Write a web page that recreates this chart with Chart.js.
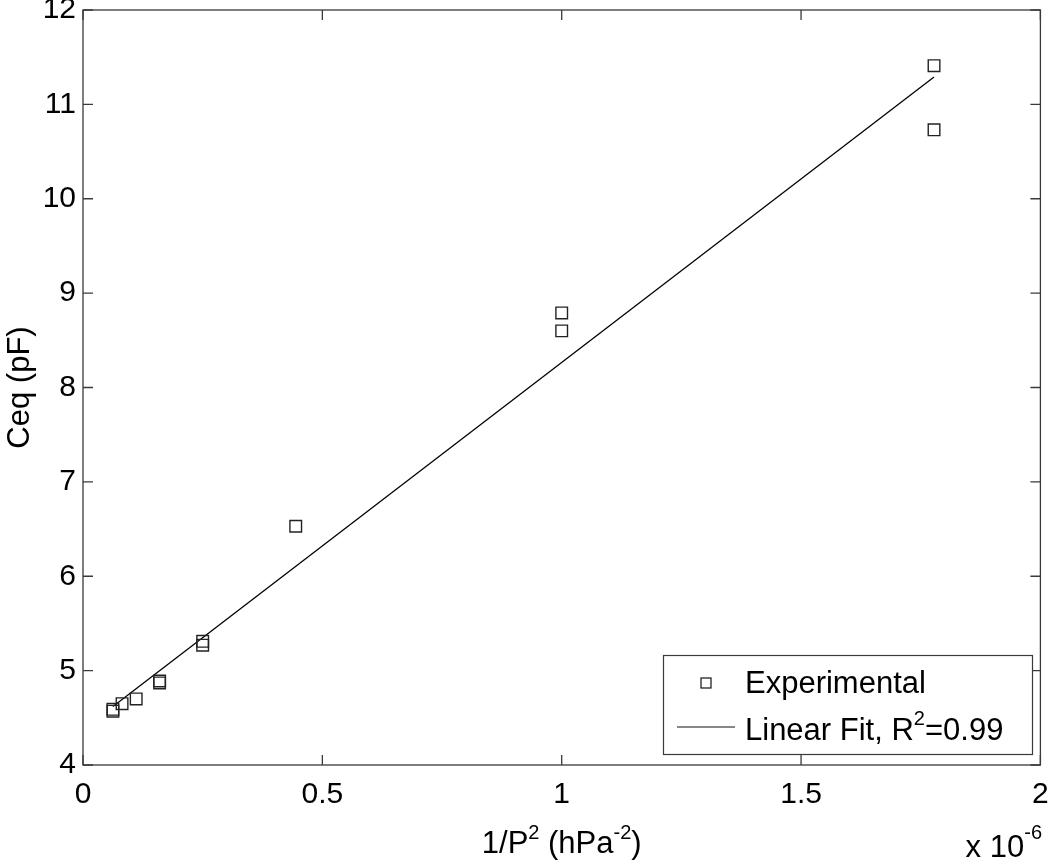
<!DOCTYPE html>
<html>
<head>
<meta charset="utf-8">
<title>Ceq vs 1/P^2</title>
<script src="https://cdn.jsdelivr.net/npm/chart.js@4.4.1/dist/chart.umd.min.js"></script>
<style>
    body { margin: 0; background: #fff; }
    #wrap { width: 1050px; height: 861px; }
</style>
</head>
<body>
<div id="wrap"><canvas id="ceqChart" width="1050" height="861"></canvas></div>
<script>
// x values are 1/P^2 in units of 1e-6 hPa^-2
const invPressureSq = [0.0625, 0.0625, 0.0816, 0.1111, 0.16, 0.16, 0.25, 0.25, 0.4444, 1, 1, 1.7778, 1.7778];
const ceqPf = [4.57, 4.59, 4.65, 4.70, 4.87, 4.89, 5.27, 5.31, 6.53, 8.79, 8.60, 11.41, 10.73];

// linear fit end points
const fitX = [0.0625, 1.7778];
const fitY = [4.62, 11.29];

const xTicks = [0, 0.5, 1, 1.5, 2];
const yTicks = [4, 5, 6, 7, 8, 9, 10, 11, 12];

const FONT = "'Liberation Sans', Arial, Helvetica, sans-serif";
const INK = '#000';
const FRAME = '#3a3a3a';

Chart.defaults.font.family = FONT;
Chart.defaults.color = INK;

// text with superscripts: parts = [text, size, rise]
function drawRich(ctx, parts, x, y, align) {
    let total = 0;
    parts.forEach(p => {
        ctx.font = p[1] + 'px ' + FONT;
        total += ctx.measureText(p[0]).width;
    });
    let cx = x;
    if (align === 'center') cx = x - total / 2;
    if (align === 'right') cx = x - total;
    ctx.textAlign = 'left';
    ctx.textBaseline = 'alphabetic';
    parts.forEach(p => {
        ctx.font = p[1] + 'px ' + FONT;
        ctx.fillText(p[0], cx, y - p[2]);
        cx += ctx.measureText(p[0]).width;
    });
}

// box around the axes with inward ticks, MATLAB style
const framePlugin = {
    id: 'frame',
    beforeDatasetsDraw(chart) {
        const ctx = chart.ctx;
        const a = chart.chartArea;
        const xs = chart.scales.x;
        const ys = chart.scales.y;
        const tl = 10;
        ctx.save();
        ctx.strokeStyle = FRAME;
        ctx.lineWidth = 1.3;
        ctx.strokeRect(a.left, a.top, a.right - a.left, a.bottom - a.top);
        ctx.beginPath();
        xTicks.forEach(v => {
            const px = xs.getPixelForValue(v);
            ctx.moveTo(px, a.bottom); ctx.lineTo(px, a.bottom - tl);
            ctx.moveTo(px, a.top); ctx.lineTo(px, a.top + tl);
        });
        yTicks.forEach(v => {
            const py = ys.getPixelForValue(v);
            ctx.moveTo(a.left, py); ctx.lineTo(a.left + tl, py);
            ctx.moveTo(a.right, py); ctx.lineTo(a.right - tl, py);
        });
        ctx.stroke();
        ctx.restore();
    },
    afterDraw(chart) {
        const ctx = chart.ctx;
        const a = chart.chartArea;
        ctx.save();
        ctx.fillStyle = INK;

        // axis titles
        drawRich(ctx, [['1/P', 31, 0], ['2', 20, 14], [' (hPa', 31, 0], ['-2', 20, 14], [')', 31, 0]],
            (a.left + a.right) / 2, 853, 'center');
        drawRich(ctx, [['x 10', 31, 0], ['-6', 20, 18]], 1042, 857, 'right');

        ctx.save();
        ctx.translate(20, (a.top + a.bottom) / 2);
        ctx.rotate(-Math.PI / 2);
        ctx.font = '31px ' + FONT;
        ctx.textAlign = 'center';
        ctx.textBaseline = 'middle';
        ctx.fillText('Ceq (pF)', 0, 0);
        ctx.restore();

        // legend
        ctx.fillStyle = '#fff';
        ctx.fillRect(663.5, 655.5, 369, 99);
        ctx.strokeStyle = FRAME;
        ctx.lineWidth = 1.2;
        ctx.strokeRect(663.5, 655.5, 369, 99);

        ctx.strokeStyle = '#111';
        ctx.lineWidth = 1.2;
        ctx.strokeRect(701, 678, 10, 10);
        ctx.beginPath();
        ctx.moveTo(677, 727);
        ctx.lineTo(735, 727);
        ctx.stroke();

        ctx.fillStyle = INK;
        drawRich(ctx, [['Experimental', 31, 0]], 745, 693, 'left');
        drawRich(ctx, [['Linear Fit, R', 31, 0], ['2', 20, 15], ['=0.99', 31, 0]], 745, 740, 'left');
        ctx.restore();
    }
};

const ctx = document.getElementById('ceqChart').getContext('2d');
new Chart(ctx, {
    type: 'scatter',
    data: {
        datasets: [
            {
                label: 'Experimental',
                data: invPressureSq.map((x, i) => ({ x: x, y: ceqPf[i] })),
                pointStyle: 'rect',
                pointRadius: 8.2,
                pointBorderWidth: 1.4,
                borderColor: '#222',
                backgroundColor: 'rgba(255,255,255,0)',
                showLine: false
            },
            {
                label: 'Linear Fit',
                data: fitX.map((x, i) => ({ x: x, y: fitY[i] })),
                showLine: true,
                borderColor: '#000',
                borderWidth: 1.3,
                pointRadius: 0
            }
        ]
    },
    options: {
        responsive: false,
        animation: false,
        layout: { padding: { top: 10, right: 5, left: 0, bottom: 0 } },
        plugins: {
            legend: { display: false },
            tooltip: { enabled: false }
        },
        scales: {
            x: {
                type: 'linear',
                min: 0,
                max: 2,
                grid: { display: false, drawTicks: false },
                border: { display: false },
                afterBuildTicks: s => { s.ticks = xTicks.map(v => ({ value: v })); },
                afterFit: s => { s.height = 96; s.paddingLeft = 0; s.paddingRight = 0; },
                ticks: {
                    font: { size: 30 },
                    color: INK,
                    padding: 12,
                    maxRotation: 0,
                    callback: v => String(v)
                }
            },
            y: {
                type: 'linear',
                min: 4,
                max: 12,
                grid: { display: false, drawTicks: false },
                border: { display: false },
                afterBuildTicks: s => { s.ticks = yTicks.map(v => ({ value: v })); },
                afterFit: s => { s.width = 83; s.paddingTop = 0; s.paddingBottom = 0; },
                ticks: {
                    font: { size: 30 },
                    color: INK,
                    padding: 7,
                    callback: v => String(v)
                }
            }
        }
    },
    plugins: [framePlugin]
});
</script>
</body>
</html>
